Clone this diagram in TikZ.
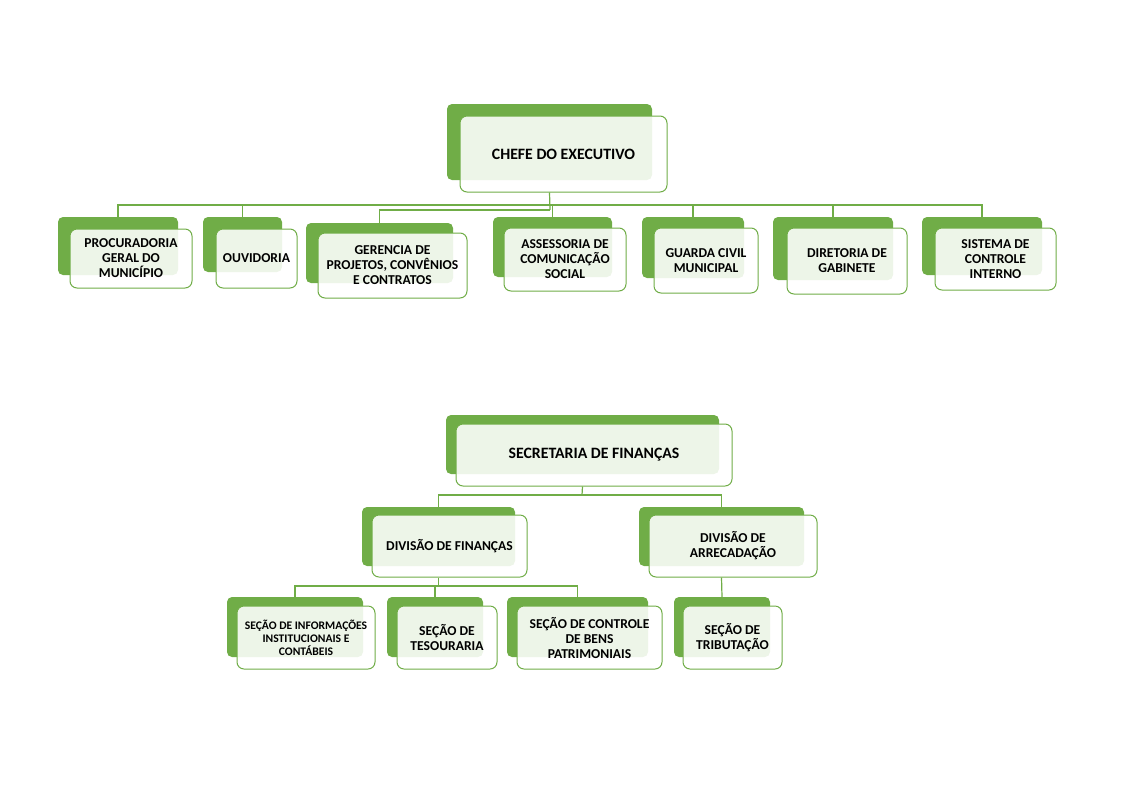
\documentclass[tikz,border=0pt]{standalone}
\usepackage{fontspec}
\setmainfont{Carlito}
\usepackage{xcolor}
\usepackage{tikz}
\usetikzlibrary{positioning}

\definecolor{orggreen}{HTML}{70AD47}

\begin{document}
\begin{tikzpicture}[
  x=1pt,y=-1pt,
  unitback/.style={rectangle,fill=orggreen,rounded corners=5pt,inner sep=0pt},
  unitbox/.style={rectangle,draw=orggreen,line width=1pt,fill=white,fill opacity=0.88,text opacity=1,
    rounded corners=7pt,align=center,inner sep=1pt,font=\bfseries\fontsize{13.6}{15}\selectfont},
  headbox/.style={unitbox,font=\bfseries\fontsize{15.8}{18}\selectfont},
  link/.style={draw=orggreen,line width=1.2pt}
]
  \useasboundingbox (0,0) rectangle (1121,793);

  % executivo
  \node[unitback,minimum width=205pt,minimum height=76pt] (chefe-b) at (549.5,142) {};
  \node[headbox,minimum width=207pt,minimum height=76pt] (chefe) at (563.5,154) {CHEFE DO EXECUTIVO};

  \node[unitback,minimum width=120pt,minimum height=58pt] (proc-b) at (118,246) {};
  \node[unitbox,minimum width=122pt,minimum height=59pt] (proc) at (131,258.5) {PROCURADORIA\\GERAL DO\\MUNICÍPIO};
  \node[unitback,minimum width=79pt,minimum height=55pt] (ouvid-b) at (242.5,244.5) {};
  \node[unitbox,minimum width=81pt,minimum height=59pt] (ouvid) at (256.5,258.5) {OUVIDORIA};
  \node[unitback,minimum width=147pt,minimum height=60pt] (geren-b) at (379.5,253) {};
  \node[unitbox,minimum width=149pt,minimum height=65pt] (geren) at (392.5,265.5) {GERENCIA DE\\PROJETOS, CONVÊNIOS\\E CONTRATOS};
  \node[unitback,minimum width=119pt,minimum height=60pt] (assess-b) at (552.5,247) {};
  \node[unitbox,minimum width=122pt,minimum height=63pt] (assess) at (565,259.5) {ASSESSORIA DE\\COMUNICAÇÃO\\SOCIAL};
  \node[unitback,minimum width=102pt,minimum height=61pt] (guarda-b) at (693,247.5) {};
  \node[unitbox,minimum width=104pt,minimum height=65pt] (guarda) at (706,260.5) {GUARDA CIVIL\\MUNICIPAL};
  \node[unitback,minimum width=120pt,minimum height=63pt] (diret-b) at (833,248.5) {};
  \node[unitbox,minimum width=120pt,minimum height=66pt] (diret) at (847,261) {DIRETORIA DE\\GABINETE};
  \node[unitback,minimum width=120pt,minimum height=58pt] (sistema-b) at (982,246) {};
  \node[unitbox,minimum width=121pt,minimum height=62pt] (sistema) at (995.5,259) {SISTEMA DE\\CONTROLE\\INTERNO};

  \coordinate (bus1) at (550,205);
  \coordinate (bus2) at (550,210);
  \draw[link] (chefe-b.south |- chefe.south) -- (bus2);
  \draw[link] (proc-b.north) |- (bus1) -| (sistema-b.north);
  \draw[link] (ouvid-b.north) -- (ouvid-b.north |- bus1);
  \draw[link] (assess-b.north) -- (assess-b.north |- bus1);
  \draw[link] (guarda-b.north) -- (guarda-b.north |- bus1);
  \draw[link] (diret-b.north) -- (diret-b.north |- bus1);
  \draw[link] (geren-b.north) |- (bus2);

  % financas
  \node[unitback,minimum width=273pt,minimum height=59pt] (secret-b) at (582.5,444.5) {};
  \node[headbox,minimum width=276pt,minimum height=62pt] (secret) at (594,455) {SECRETARIA DE FINANÇAS};

  \node[unitback,minimum width=153pt,minimum height=59pt] (divfin-b) at (438.5,536.5) {};
  \node[unitbox,minimum width=155pt,minimum height=62pt] (divfin) at (449.5,546) {DIVISÃO DE FINANÇAS};
  \node[unitback,minimum width=165pt,minimum height=59pt] (divarr-b) at (721.5,536.5) {};
  \node[unitbox,minimum width=168pt,minimum height=62pt] (divarr) at (733,546) {DIVISÃO DE\\ARRECADAÇÃO};

  \node[unitback,minimum width=136pt,minimum height=60pt] (info-b) at (295,627) {};
  \node[unitbox,minimum width=138pt,minimum height=63pt,font=\bfseries\fontsize{11.6}{13}\selectfont] (info) at (306,637.5) {SEÇÃO DE INFORMAÇÕES\\INSTITUCIONAIS E\\CONTÁBEIS};
  \node[unitback,minimum width=96pt,minimum height=60pt] (tesour-b) at (435,627) {};
  \node[unitbox,minimum width=100pt,minimum height=63pt] (tesour) at (447,637.5) {SEÇÃO DE\\TESOURARIA};
  \node[unitback,minimum width=141pt,minimum height=60pt] (bens-b) at (577.5,627) {};
  \node[unitbox,minimum width=145pt,minimum height=63pt] (bens) at (589.5,637.5) {SEÇÃO DE CONTROLE\\DE BENS\\PATRIMONIAIS};
  \node[unitback,minimum width=96pt,minimum height=60pt] (tribut-b) at (722,627) {};
  \node[unitbox,minimum width=99pt,minimum height=63pt] (tribut) at (732.5,637.5) {SEÇÃO DE\\TRIBUTAÇÃO};

  \coordinate (bus3) at (582,495);
  \coordinate (bus4) at (438.5,586);
  \draw[link] (secret-b.south |- secret.south) -- (bus3);
  \draw[link] (divfin-b.north) |- (bus3) -| (divarr-b.north);
  \draw[link] (divfin-b.south |- divfin.south) -- (bus4);
  \draw[link] (info-b.north) |- (bus4) -| (bens-b.north);
  \draw[link] (tesour-b.north) -- (tesour-b.north |- bus4);
  \draw[link] (divarr-b.south |- divarr.south) -- (tribut-b.north);
\end{tikzpicture}
\end{document}
